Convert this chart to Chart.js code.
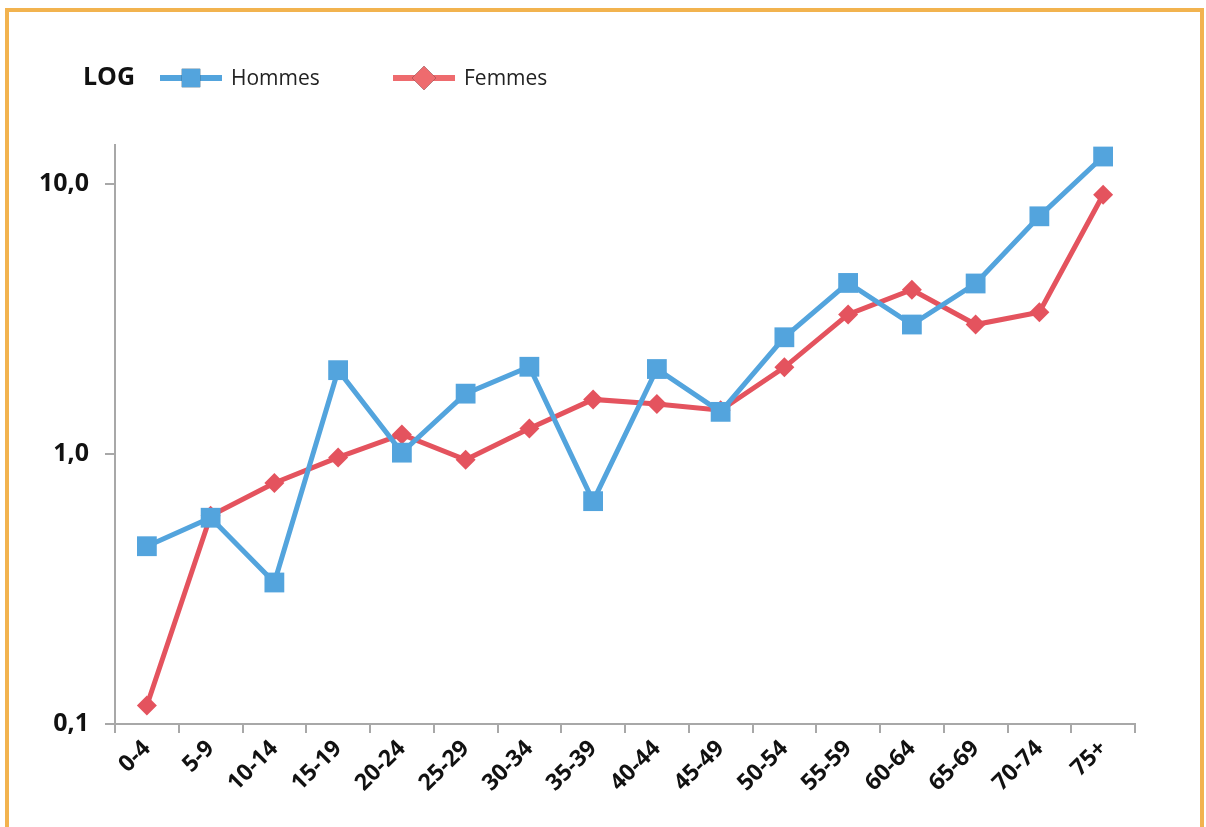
<!DOCTYPE html>
<html lang="fr">
<head>
<meta charset="utf-8">
<title>LOG - Hommes / Femmes</title>
<script src="https://cdn.jsdelivr.net/npm/chart.js@4/dist/chart.umd.min.js"></script>
<style>
    html, body { margin: 0; padding: 0; background: #fff; overflow: hidden; }
    .frame {
        position: absolute; left: 5px; top: 8px; width: 1191px; height: 900px;
        border: 4px solid #f2b34f;
    }
    #chartWrap { position: absolute; left: 0; top: 0; width: 1206px; height: 827px; }
</style>
</head>
<body>
<div class="frame"></div>
<div id="chartWrap"><canvas id="chart" width="1206" height="827"></canvas></div>
<script>
// ====== Data ======
const ageGroups = ['0-4', '5-9', '10-14', '15-19', '20-24', '25-29', '30-34', '35-39',
                   '40-44', '45-49', '50-54', '55-59', '60-64', '65-69', '70-74', '75+'];
const hommes = [0.455, 0.58, 0.334, 2.04, 1.01, 1.67, 2.10, 0.668,
                2.06, 1.43, 2.70, 4.29, 3.01, 4.27, 7.57, 12.6];
const femmes = [0.117, 0.59, 0.78, 0.97, 1.18, 0.95, 1.24, 1.59,
                1.53, 1.45, 2.09, 3.28, 4.05, 3.01, 3.34, 9.10];
const yTickValues = [0.1, 1, 10];
const yTickLabels = ['0,1', '1,0', '10,0'];
const yMin = 0.1, yMax = 13.9;
const scaleTitle = 'LOG';

const BLUE = '#53a4dd';
const RED = '#e4535e';
const RED_LEGEND = '#ee6b6e';
const AXIS = '#a8a8a8';
const FONT = "'Open Sans', 'Noto Sans', sans-serif";

// ====== Legend drawn in a row: "LOG" then line + marker samples ======
const rowLegend = {
    id: 'rowLegend',
    afterDraw(chart) {
        const ctx = chart.ctx;
        const y = 78;
        ctx.save();
        ctx.fillStyle = '#111';
        ctx.font = `bold 25px ${FONT}`;
        ctx.textBaseline = 'middle';
        ctx.textAlign = 'left';
        ctx.fillText(scaleTitle, 83, y);

        chart.data.datasets.forEach((ds, i) => {
            const x0 = 160 + i * 233;
            const col = ds.legendColor || ds.borderColor;
            ctx.strokeStyle = col;
            ctx.lineWidth = 6;
            ctx.beginPath();
            ctx.moveTo(x0, y);
            ctx.lineTo(x0 + 62, y);
            ctx.stroke();
            Chart.helpers.drawPoint(ctx, {
                pointStyle: ds.pointStyle,
                radius: ds.pointStyle === 'rect' ? 13 : 12,
                borderWidth: 0
            }, x0 + 31, y);
            ctx.fillStyle = col;
            ctx.fill();
            ctx.fillStyle = '#222';
            ctx.font = `21px ${FONT}`;
            ctx.fillText(ds.label, x0 + 71, y + 1);
        });
        ctx.restore();
    }
};

const ctx = document.getElementById('chart').getContext('2d');
new Chart(ctx, {
    type: 'line',
    data: {
        labels: ageGroups,
        datasets: [
            {
                label: 'Hommes', data: hommes,
                borderColor: BLUE, backgroundColor: BLUE,
                pointBackgroundColor: BLUE, pointBorderWidth: 0,
                pointStyle: 'rect', pointRadius: 14, pointHoverRadius: 14,
                borderWidth: 5, tension: 0
            },
            {
                label: 'Femmes', data: femmes, legendColor: RED_LEGEND,
                borderColor: RED, backgroundColor: RED,
                pointBackgroundColor: RED, pointBorderWidth: 0,
                pointStyle: 'rectRot', pointRadius: 10, pointHoverRadius: 10,
                borderWidth: 5, tension: 0
            }
        ]
    },
    options: {
        responsive: false, animation: false,
        layout: { padding: { left: 0, top: 145, right: 71, bottom: 0 } },
        plugins: { legend: { display: false }, tooltip: { enabled: false } },
        scales: {
            x: {
                offset: true,
                grid: { offset: true, drawOnChartArea: false, drawTicks: true, tickLength: 9, color: AXIS, lineWidth: 2 },
                border: { display: true, color: AXIS, width: 2 },
                ticks: {
                    minRotation: 45, maxRotation: 45, autoSkip: false, padding: 2,
                    color: '#111', font: { family: FONT, size: 23, weight: 'bold' }
                },
                afterFit: s => { s.height = 103; }
            },
            y: {
                type: 'logarithmic', min: yMin, max: yMax,
                grid: { drawOnChartArea: false, drawTicks: true, tickLength: 10, color: AXIS, lineWidth: 2 },
                border: { display: true, color: AXIS, width: 2 },
                afterBuildTicks: s => { s.ticks = yTickValues.map(v => ({ value: v })); },
                ticks: {
                    padding: 16, color: '#111',
                    font: { family: FONT, size: 25, weight: 'bold' },
                    callback: v => yTickLabels[yTickValues.indexOf(v)] ?? ''
                },
                afterFit: s => { s.width = 115; }
            }
        }
    },
    plugins: [rowLegend]
});
</script>
</body>
</html>
